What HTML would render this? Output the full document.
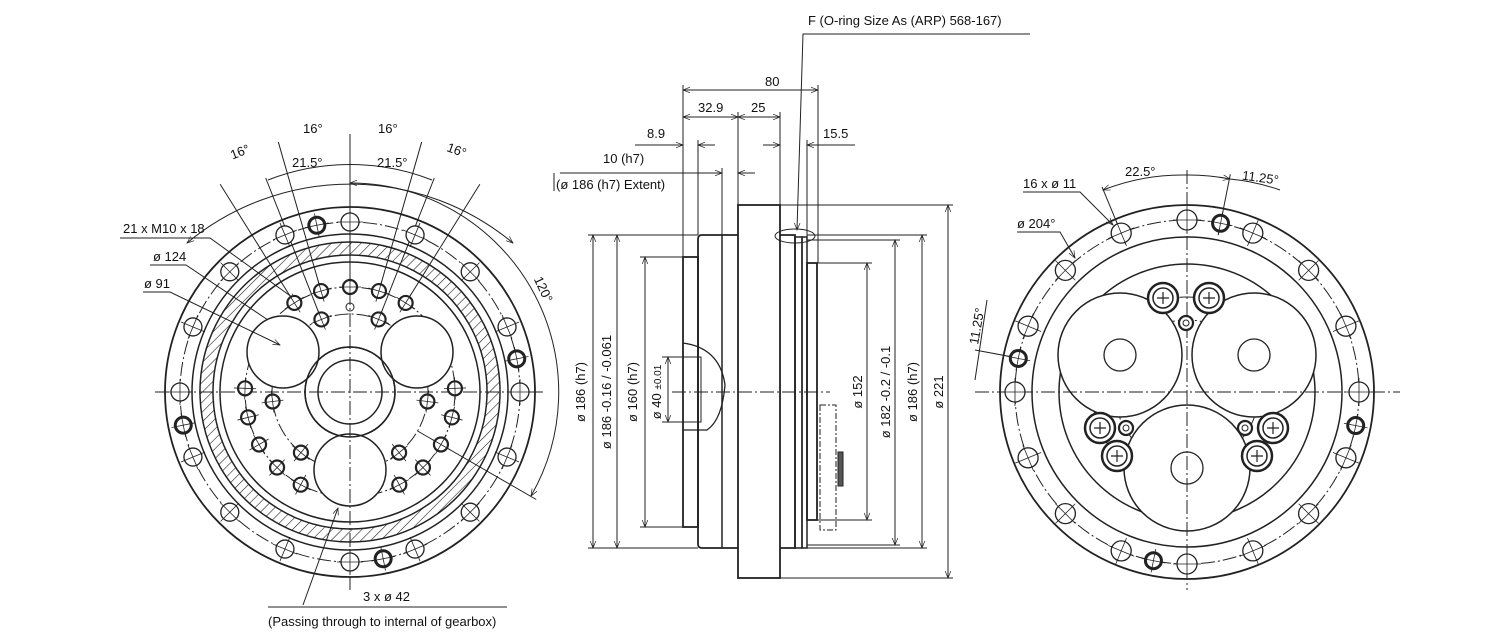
<!DOCTYPE html>
<html><head><meta charset="utf-8"><style>
html,body{margin:0;padding:0;background:#fff;}
svg{display:block;}
text{font-family:"Liberation Sans",sans-serif;font-size:13px;fill:#111;}
</style></head><body>
<svg id="s" width="1500" height="639" viewBox="0 0 1500 639" xmlns="http://www.w3.org/2000/svg">
<defs>
<pattern id="h" width="7" height="7" patternUnits="userSpaceOnUse" patternTransform="rotate(45)"><line x1="0" y1="0" x2="0" y2="7" stroke="#222" stroke-width="1.2"/></pattern>
<marker id="a" viewBox="0 0 10 10" refX="10" refY="5" markerWidth="9" markerHeight="7" orient="auto-start-reverse"><path d="M0,1 L10,5 L0,9" fill="none" stroke="#222" stroke-width="1"/></marker>
</defs>
<g id="g" fill="none" stroke="#222" stroke-width="1">
<!-- LEFT VIEW -->
<path d="M350,242 a150,150 0 1,0 0.01,0 Z M350,255 a137,137 0 1,0 0.01,0 Z" fill="url(#h)" fill-rule="evenodd" stroke-width="1.5"/>
<circle cx="350" cy="392" r="185" stroke-width="1.8"/>
<circle cx="350" cy="392" r="158" stroke-width="1.5"/>
<circle cx="350" cy="392" r="130" stroke-width="1.5"/>
<circle cx="350" cy="392" r="170" stroke-dasharray="14,3,2,3"/>
<circle cx="350" cy="392" r="105" stroke-dasharray="14,3,2,3"/>
<circle cx="350" cy="392" r="78" stroke-dasharray="14,3,2,3"/>
<circle cx="350" cy="392" r="45" stroke-width="1.5"/>
<circle cx="350" cy="392" r="32" stroke-width="1.5"/>
<circle cx="283" cy="352" r="36" stroke-width="1.5" fill="#fff"/>
<circle cx="417" cy="352" r="36" stroke-width="1.5" fill="#fff"/>
<circle cx="350" cy="470" r="36" stroke-width="1.5" fill="#fff"/>
<circle cx="350" cy="392" r="45" stroke-width="1.5" fill="none"/>
<circle cx="350" cy="307" r="4"/>
<line x1="155" y1="392" x2="545" y2="392" stroke-dasharray="14,3,2,3"/>
<line x1="350" y1="137" x2="350" y2="590" stroke-dasharray="14,3,2,3"/>
<path d="M187,243 A255,255 0 0 1 513,243" marker-start="url(#a)" marker-end="url(#a)"/>
<path d="M268,180 A225,225 0 0 1 432,180"/>
<path d="M350,183 A209,209 0 0 1 531,496" marker-start="url(#a)" marker-end="url(#a)"/>
<!-- left leaders -->
<polyline points="120,238 210,238 296,300" marker-end="url(#a)"/>
<polyline points="150,265 186,265 268,320"/>
<polyline points="143,292 170,292 280,345" marker-end="url(#a)"/>
<polyline points="268,607 507,607"/>
<line x1="303" y1="605" x2="338" y2="508" marker-end="url(#a)"/>
<!-- MIDDLE VIEW -->
<rect x="738" y="205" width="42" height="373" stroke-width="1.8"/>
<path d="M738,235 L702,235 Q698,235 698,239 L698,544 Q698,548 702,548 L738,548" stroke-width="1.8"/>
<line x1="722" y1="235" x2="722" y2="548" stroke-width="1.5"/>
<rect x="683" y="257" width="15" height="270" stroke-width="1.8"/>
<path d="M780,235 L795,235 L795,548 L780,548" stroke-width="1.8"/>
<rect x="795" y="237" width="7" height="311" stroke-width="1.5"/>
<rect x="802" y="237" width="5" height="311" stroke-width="1.5"/>
<rect x="807" y="263" width="10" height="257" stroke-width="1.8"/>
<path d="M683,343 Q720,348 725,385 Q722,420 707,430 L683,430" stroke-width="1.3"/>
<rect x="683" y="357" width="18" height="65"/>
<rect x="820" y="405" width="16" height="125" stroke-dasharray="6,2,2,2"/>
<rect x="838" y="452" width="5" height="34" fill="#555"/>
<line x1="672" y1="392" x2="830" y2="392" stroke-dasharray="14,3,2,3"/>
<ellipse cx="795" cy="236" rx="20" ry="7"/>
<!-- top dims -->
<polyline points="1030,34 803,34 797,230" marker-end="url(#a)"/>
<line x1="683" y1="90" x2="818" y2="90" marker-start="url(#a)" marker-end="url(#a)"/>
<line x1="683" y1="117" x2="738" y2="117" marker-start="url(#a)" marker-end="url(#a)"/>
<line x1="738" y1="117" x2="780" y2="117" marker-start="url(#a)" marker-end="url(#a)"/>
<line x1="635" y1="145" x2="683" y2="145" marker-end="url(#a)"/>
<line x1="715" y1="145" x2="698" y2="145" marker-end="url(#a)"/>
<line x1="763" y1="145" x2="780" y2="145" marker-end="url(#a)"/>
<line x1="855" y1="145" x2="807" y2="145" marker-end="url(#a)"/>
<line x1="560" y1="173" x2="722" y2="173" marker-end="url(#a)"/>
<line x1="755" y1="173" x2="738" y2="173" marker-end="url(#a)"/>
<path d="M554,173 v18"/>
<line x1="683" y1="85" x2="683" y2="257"/><line x1="698" y1="140" x2="698" y2="235"/>
<line x1="722" y1="168" x2="722" y2="235"/><line x1="738" y1="112" x2="738" y2="205"/>
<line x1="780" y1="112" x2="780" y2="205"/><line x1="807" y1="140" x2="807" y2="237"/>
<line x1="818" y1="85" x2="818" y2="263"/>
<!-- vertical dims -->
<line x1="588" y1="235" x2="698" y2="235"/><line x1="588" y1="548" x2="698" y2="548"/>
<line x1="640" y1="257" x2="683" y2="257"/><line x1="640" y1="527" x2="683" y2="527"/>
<line x1="662" y1="357" x2="683" y2="357"/><line x1="662" y1="422" x2="683" y2="422"/>
<line x1="593" y1="235" x2="593" y2="548" marker-start="url(#a)" marker-end="url(#a)"/>
<line x1="617" y1="235" x2="617" y2="548" marker-start="url(#a)" marker-end="url(#a)"/>
<line x1="645" y1="257" x2="645" y2="527" marker-start="url(#a)" marker-end="url(#a)"/>
<line x1="668" y1="357" x2="668" y2="422" marker-start="url(#a)" marker-end="url(#a)"/>
<line x1="817" y1="263" x2="872" y2="263"/><line x1="817" y1="520" x2="872" y2="520"/>
<line x1="807" y1="240" x2="900" y2="240"/><line x1="807" y1="545" x2="900" y2="545"/>
<line x1="807" y1="235" x2="927" y2="235"/><line x1="807" y1="548" x2="927" y2="548"/>
<line x1="780" y1="205" x2="953" y2="205"/><line x1="780" y1="578" x2="953" y2="578"/>
<line x1="867" y1="263" x2="867" y2="520" marker-start="url(#a)" marker-end="url(#a)"/>
<line x1="895" y1="240" x2="895" y2="545" marker-start="url(#a)" marker-end="url(#a)"/>
<line x1="922" y1="235" x2="922" y2="548" marker-start="url(#a)" marker-end="url(#a)"/>
<line x1="948" y1="205" x2="948" y2="578" marker-start="url(#a)" marker-end="url(#a)"/>
<!-- RIGHT VIEW -->
<circle cx="1187" cy="392" r="187" stroke-width="1.8"/>
<circle cx="1187" cy="392" r="155" stroke-width="1.5"/>
<circle cx="1187" cy="392" r="128" stroke-width="1.5"/>
<circle cx="1187" cy="392" r="172" stroke-dasharray="14,3,2,3"/>
<circle cx="1187" cy="392" r="95" stroke-dasharray="14,3,2,3"/>
<circle cx="1187" cy="392" r="72" stroke-dasharray="14,3,2,3"/>
<circle cx="1120" cy="355" r="62" stroke-width="1.5" fill="#fff"/>
<circle cx="1254" cy="355" r="62" stroke-width="1.5" fill="#fff"/>
<circle cx="1187" cy="468" r="63" stroke-width="1.5" fill="#fff"/>
<circle cx="1120" cy="355" r="16" stroke-width="1.3"/>
<circle cx="1254" cy="355" r="16" stroke-width="1.3"/>
<circle cx="1187" cy="468" r="16" stroke-width="1.3"/>
<line x1="975" y1="392" x2="1400" y2="392" stroke-dasharray="14,3,2,3"/>
<line x1="1187" y1="170" x2="1187" y2="590" stroke-dasharray="14,3,2,3"/>
<path d="M1103,190 A217,217 0 0 1 1187,175" marker-start="url(#a)"/>
<path d="M1187,175 A217,217 0 0 1 1230,179" marker-end="url(#a)"/>
<path d="M1230,179 A217,217 0 0 1 1280,190"/>
<polyline points="1023,192 1080,192 1113,225" marker-end="url(#a)"/>
<polyline points="1017,232 1060,232 1075,258" marker-end="url(#a)"/>
<line x1="987" y1="300" x2="975" y2="380"/>
<line x1="975" y1="350" x2="1018" y2="358"/>
</g>
<g id="holes" fill="none" stroke="#222"></g>
<g>
<text x="808" y="25" font-size="14">F (O-ring Size As (ARP) 568-167)</text>
<text x="765" y="86">80</text>
<text x="698" y="112">32.9</text>
<text x="751" y="112">25</text>
<text x="647" y="138">8.9</text>
<text x="823" y="138">15.5</text>
<text x="603" y="163">10 (h7)</text>
<text x="556" y="189">(ø 186 (h7) Extent)</text>
<text x="123" y="233">21 x M10 x 18</text>
<text x="153" y="261">ø 124</text>
<text x="144" y="288">ø 91</text>
<text x="363" y="601">3 x ø 42</text>
<text x="268" y="626">(Passing through to internal of gearbox)</text>
<text x="230" y="157" transform="rotate(-22 238 152)">16°</text>
<text x="303" y="133">16°</text>
<text x="378" y="133">16°</text>
<text x="447" y="155" transform="rotate(20 458 150)">16°</text>
<text x="292" y="167">21.5°</text>
<text x="377" y="167">21.5°</text>
<text x="533" y="290" transform="rotate(65 542 285)">120°</text>
<text x="1023" y="188">16 x ø 11</text>
<text x="1017" y="228">ø 204°</text>
<text x="1125" y="176">22.5°</text>
<text x="1242" y="182" transform="rotate(8 1260 178)">11.25°</text>
<text x="0" y="0" transform="translate(978,345) rotate(-80)">11.25°</text>
<text transform="translate(585,392) rotate(-90)" text-anchor="middle">ø 186 (h7)</text>
<text transform="translate(611,392) rotate(-90)" text-anchor="middle">ø 186 -0.16 / -0.061</text>
<text transform="translate(637,392) rotate(-90)" text-anchor="middle">ø 160 (h7)</text>
<text transform="translate(661,392) rotate(-90)" text-anchor="middle">ø 40 <tspan font-size="10">±0.01</tspan></text>
<text transform="translate(862,392) rotate(-90)" text-anchor="middle">ø 152</text>
<text transform="translate(890,392) rotate(-90)" text-anchor="middle">ø 182 -0.2 / -0.1</text>
<text transform="translate(917,392) rotate(-90)" text-anchor="middle">ø 186 (h7)</text>
<text transform="translate(943,392) rotate(-90)" text-anchor="middle">ø 221</text>
</g>
</svg>
<script>
(function(){
var NS="http://www.w3.org/2000/svg",H=document.getElementById("holes"),G=document.getElementById("g");
function el(p,t,a){var e=document.createElementNS(NS,t);for(var k in a)e.setAttribute(k,a[k]);p.appendChild(e);return e;}
function hole(cx,cy,r,w,ang){el(H,"circle",{cx:cx,cy:cy,r:r,"stroke-width":w,fill:"#fff"});
 var c=r+4;el(H,"line",{x1:cx-c,y1:cy,x2:cx+c,y2:cy,"stroke-width":0.8,transform:"rotate("+ang+" "+cx+" "+cy+")"});
 el(H,"line",{x1:cx,y1:cy-c,x2:cx,y2:cy+c,"stroke-width":0.8,transform:"rotate("+ang+" "+cx+" "+cy+")"});}
function pol(cx,cy,r,a){var t=a*Math.PI/180;return [cx+r*Math.sin(t),cy-r*Math.cos(t)];}
var i,p;
for(i=0;i<16;i++){p=pol(350,392,170,i*22.5);hole(p[0],p[1],9,1.3,i*22.5);}
[-11.25,78.75,168.75,258.75].forEach(function(a){p=pol(350,392,170,a);hole(p[0],p[1],8,3,a);});
[0,16,-16,32,-32,88,104,120,136,152,-88,-104,-120,-136,-152].forEach(function(a){p=pol(350,392,105,a);hole(p[0],p[1],7,2.2,a);});
[21.5,-21.5,97,-97,141,-141].forEach(function(a){p=pol(350,392,78,a);hole(p[0],p[1],7,2.2,a);});
[[16,260],[-16,260],[32,245],[-32,245],[0,258]].forEach(function(q){var a=pol(350,392,105,q[0]),b=pol(350,392,q[1],q[0]);el(G,"line",{x1:a[0],y1:a[1],x2:b[0],y2:b[1]});});
[[21.5,230],[-21.5,230]].forEach(function(q){var a=pol(350,392,78,q[0]),b=pol(350,392,q[1],q[0]);el(G,"line",{x1:a[0],y1:a[1],x2:b[0],y2:b[1]});});
var a0=pol(350,392,78,120),b0=pol(350,392,215,120);el(G,"line",{x1:a0[0],y1:a0[1],x2:b0[0],y2:b0[1]});
for(i=0;i<16;i++){p=pol(1187,392,172,i*22.5);hole(p[0],p[1],10,1.3,i*22.5);}
[11.25,101.25,191.25,281.25].forEach(function(a){p=pol(1187,392,172,a);hole(p[0],p[1],8,3,a);});
[[-22.5,222],[11.25,222]].forEach(function(q){var a=pol(1187,392,160,q[0]),b=pol(1187,392,q[1],q[0]);el(G,"line",{x1:a[0],y1:a[1],x2:b[0],y2:b[1]});});
[[1163,298],[1209,298],[1100,428],[1117,456],[1273,428],[1257,456]].forEach(function(c){
 el(H,"circle",{cx:c[0],cy:c[1],r:15,"stroke-width":2.5,fill:"#fff"});
 el(H,"circle",{cx:c[0],cy:c[1],r:10,"stroke-width":1.5});
 el(H,"path",{d:"M"+(c[0]-6)+","+c[1]+"h12M"+c[0]+","+(c[1]-6)+"v12","stroke-width":1.2});});
[[1186,323],[1126,428],[1245,428]].forEach(function(c){
 el(H,"circle",{cx:c[0],cy:c[1],r:7,"stroke-width":2.2,fill:"#fff"});el(H,"circle",{cx:c[0],cy:c[1],r:3,"stroke-width":1});});
})();
</script>
</body></html>
